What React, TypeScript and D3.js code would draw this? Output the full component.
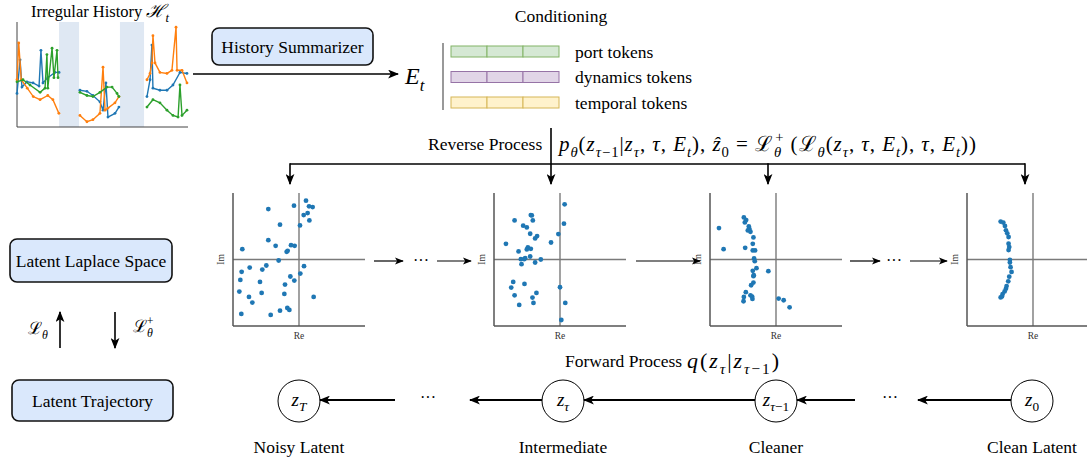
import React from "react";
import * as d3 from "d3";

// history plot: time 0-100, value 0-100, three observed windows per series
const historyBlue = [
  [[0, 32], [1.8, 64], [2.9, 38], [5.8, 43], [9.4, 42], [12.9, 39], [14, 73], [15.2, 42], [18, 47], [22.2, 52], [24.6, 52]],
  [[36.8, 35], [40.9, 34], [44.4, 30], [48.5, 24], [50.3, 16], [52, 42], [53.2, 9.5], [57.3, 13], [59.6, 19]],
  [[76, 29], [77.8, 45], [78.9, 78], [79.5, 37], [83.6, 35], [87.7, 35], [91.2, 40], [95.3, 52], [99.4, 51]],
];
const historyOrange = [
  [[0, 45], [1, 80], [2.5, 45], [6, 37], [9.5, 29], [13.5, 26], [18, 30], [21, 26], [24.5, 13]],
  [[36.8, 11], [40.9, 5], [44.4, 7], [48.5, 13], [50.3, 57], [51.5, 16], [53.2, 18], [57.3, 23], [59.6, 29]],
  [[76, 45], [77.8, 51], [78.9, 61], [79.5, 87], [80.7, 61], [83.6, 52], [87.7, 51], [90.6, 54], [93, 95], [93.6, 54], [96.5, 54], [99.4, 42]],
];
const historyGreen = [
  [[0, 43], [3.5, 45], [7.6, 40], [13.5, 33], [16.4, 37], [17.5, 69], [18, 37], [20.5, 75], [21.6, 47], [23.4, 73], [24, 47]],
  [[36.8, 33], [40.9, 30], [44.4, 29], [48.5, 33], [52.6, 38], [55.6, 38], [58.5, 32], [59.6, 29]],
  [[76, 19], [79.5, 26], [83.6, 23], [87.7, 16], [91.2, 11], [94.2, 9.5], [95.3, 40], [96.5, 11], [99.4, 16]],
];
const historyGaps = [[24.6, 36.3], [60.2, 74.3]];
const seriesColors = ["#1f77b4", "#ff7f0e", "#2ca02c"];

// poles on the complex plane (Re, Im in -1..1), one list per diffusion step
const polesNoisy = [
  [0.106, 0.884], [-0.076, 0.809], [0.152, 0.799], [0.207, 0.789], [-0.465, 0.759], [0.131, 0.698], [0.071, 0.668],
  [0.157, 0.588], [-0.288, 0.523], [0.015, 0.513], [-0.465, 0.291], [-0.354, 0.206], [-0.121, 0.216], [-0.066, 0.206],
  [-0.859, 0.156], [-0.172, 0.131], [-0.187, 0.116], [-0.308, -0.015], [0.076, -0.101], [-0.747, -0.121], [-0.495, -0.09],
  [-0.556, -0.151], [-0.869, -0.186], [0.02, -0.211], [-0.131, -0.256], [-0.071, -0.317], [-0.889, -0.307], [-0.591, -0.337],
  [-0.212, -0.377], [-0.904, -0.482], [-0.566, -0.503], [-0.222, -0.518], [-0.758, -0.563], [0.222, -0.563], [-0.707, -0.648],
  [-0.177, -0.729], [-0.146, -0.759], [-0.288, -0.769], [-0.874, -0.819], [-0.429, -0.834],
];
const polesMid = [
  [0.07, 0.829], [-0.442, 0.668], [-0.427, 0.663], [-0.688, 0.588], [-0.412, 0.588], [0.06, 0.538], [-0.558, 0.508],
  [-0.503, 0.482], [-0.452, 0.387], [-0.025, 0.382], [-0.347, 0.352], [-0.377, 0.317], [-0.136, 0.256], [-0.819, 0.236],
  [-0.487, 0.181], [-0.442, 0.161], [-0.503, 0.151], [-0.628, 0.121], [-0.452, 0.045], [-0.528, 0.02], [-0.593, 0.005],
  [-0.543, 0.005], [-0.291, 0], [-0.377, -0.045], [-0.583, -0.07], [-0.709, -0.337], [-0.538, -0.367], [-0.739, -0.422],
  [0, -0.417], [-0.357, -0.503], [-0.688, -0.538], [-0.417, -0.573], [0.08, -0.653], [-0.402, -0.653], [-0.618, -0.683],
  [0.02, -0.91],
];
const polesCleaner = [
  [-0.487, 0.633], [-0.452, 0.593], [-0.472, 0.558], [-0.412, 0.497], [-0.864, 0.472], [-0.402, 0.457], [-0.427, 0.437],
  [-0.387, 0.417], [-0.342, 0.332], [-0.352, 0.236], [-0.794, 0.156], [-0.467, 0.176], [-0.352, 0.136], [-0.317, 0.136],
  [-0.332, 0.015], [-0.322, -0.025], [-0.296, -0.131], [-0.352, -0.171], [-0.116, -0.176], [-0.337, -0.236], [-0.342, -0.251],
  [-0.342, -0.347], [-0.377, -0.387], [-0.457, -0.492], [-0.387, -0.538], [-0.362, -0.558], [-0.487, -0.563], [-0.357, -0.593],
  [-0.492, -0.628], [0.04, -0.588], [0.116, -0.613], [0.206, -0.719],
];
const polesClean = [
  [-0.49, 0.571], [-0.45, 0.556], [-0.425, 0.505], [-0.41, 0.439], [-0.39, 0.394], [-0.37, 0.338], [-0.37, 0.237],
  [-0.36, 0.187], [-0.37, 0.141], [-0.35, -0.005], [-0.35, -0.045], [-0.34, -0.116], [-0.325, -0.187], [-0.36, -0.258],
  [-0.375, -0.328], [-0.4, -0.399], [-0.41, -0.439], [-0.43, -0.48], [-0.46, -0.52], [-0.49, -0.571], [-0.47, -0.556],
];

const tokenLabels = ["port tokens", "dynamics tokens", "temporal tokens"];
const tokenFill = ["#d5e8d4", "#e1d5e7", "#fff2cc"];
const tokenStroke = ["#82b366", "#9673a6", "#d6b656"];
const tokenCells = [0, 1, 2];

const nodeNames = ["Noisy Latent", "Intermediate", "Cleaner", "Clean Latent"];

const FONT = "'Liberation Serif', 'DejaVu Serif', serif";

type Part = { t: string; s?: "sub" | "sup"; i?: boolean; dx?: number };

function mathSpans(parts: Part[], fs: number) {
  let cur = 0;
  return parts.map((p, k) => {
    const target = p.s === "sub" ? fs * 0.28 : p.s === "sup" ? -fs * 0.42 : 0;
    const dy = target - cur;
    cur = target;
    return (
      <tspan key={k} dy={dy} dx={p.dx} fontSize={p.s ? fs * 0.7 : fs} fontStyle={p.i ? "italic" : "normal"}>
        {p.t}
      </tspan>
    );
  });
}

const reverseFormula: Part[] = [
  { t: "p", i: true }, { t: "θ", s: "sub", i: true }, { t: "(" }, { t: "z", i: true }, { t: "τ", s: "sub", i: true },
  { t: "−1", s: "sub" }, { t: "|" }, { t: "z", i: true }, { t: "τ", s: "sub", i: true }, { t: ", " }, { t: "τ", i: true },
  { t: ", " }, { t: "E", i: true }, { t: "t", s: "sub", i: true }, { t: "), " }, { t: "ẑ", i: true }, { t: "0", s: "sub" },
  { t: " = " }, { t: "ℒ" }, { t: "θ", s: "sub", i: true }, { t: "+", s: "sup", dx: -7 }, { t: " (" }, { t: "ℒ" },
  { t: "θ", s: "sub", i: true }, { t: "(" }, { t: "z", i: true }, { t: "τ", s: "sub", i: true }, { t: ", " },
  { t: "τ", i: true }, { t: ", " }, { t: "E", i: true }, { t: "t", s: "sub", i: true }, { t: "), " }, { t: "τ", i: true },
  { t: ", " }, { t: "E", i: true }, { t: "t", s: "sub", i: true }, { t: "))" },
];
const forwardFormula: Part[] = [
  { t: "q", i: true }, { t: "(" }, { t: "z", i: true }, { t: "τ", s: "sub", i: true }, { t: "|" }, { t: "z", i: true },
  { t: "τ", s: "sub", i: true }, { t: "−1", s: "sub" }, { t: ")" },
];
const nodeSymbols: Part[][] = [
  [{ t: "z", i: true }, { t: "T", s: "sub", i: true }],
  [{ t: "z", i: true }, { t: "τ", s: "sub", i: true }],
  [{ t: "z", i: true }, { t: "τ", s: "sub", i: true }, { t: "−1", s: "sub" }],
  [{ t: "z", i: true }, { t: "0", s: "sub" }],
];

function Panel({ left, pts }: { left: number; pts: number[][] }) {
  const x = d3.scaleLinear().domain([-1, 1]).range([left, left + 132]);
  const y = d3.scaleLinear().domain([-1, 1]).range([326, 193]);
  return (
    <g>
      <line x1={x(0)} y1={y(1)} x2={x(0)} y2={y(-1)} stroke="#7a7a7a" strokeWidth={1.4} />
      <line x1={x(-1)} y1={y(0)} x2={x(1)} y2={y(0)} stroke="#7a7a7a" strokeWidth={1.4} />
      <line x1={x(-1)} y1={y(1)} x2={x(-1)} y2={y(-1)} stroke="#555" strokeWidth={1.5} />
      <line x1={x(-1)} y1={y(-1)} x2={x(1)} y2={y(-1)} stroke="#555" strokeWidth={1.5} />
      {pts.map((d, i) => (
        <circle key={i} cx={x(d[0])} cy={y(d[1])} r={2.4} fill="#1f77b4" />
      ))}
      <text x={x(0)} y={339} fontSize={9.5} textAnchor="middle" fill="#333">Re</text>
      <text transform={`translate(${left - 9},${y(0)}) rotate(-90)`} fontSize={9.5} textAnchor="middle" fill="#333">Im</text>
    </g>
  );
}

function Box({ x, y, w, h, label }: { x: number; y: number; w: number; h: number; label: string }) {
  return (
    <g>
      <rect x={x} y={y} width={w} height={h} rx={7} fill="#dae8fc" stroke="#111" strokeWidth={1.6} />
      <text x={x + w / 2} y={y + h / 2 + 6} textAnchor="middle" fontSize={17.5}>{label}</text>
    </g>
  );
}

export default function App() {
  const xH = d3.scaleLinear().domain([0, 100]).range([17, 188]);
  const yH = d3.scaleLinear().domain([0, 100]).range([127, 22]);
  const lineH = d3.line<number[]>().x((d) => xH(d[0])).y((d) => yH(d[1]));
  const allSeries = [historyBlue, historyOrange, historyGreen];

  const panelLefts = [233, 494, 710, 967];
  const panelPoles = [polesNoisy, polesMid, polesCleaner, polesClean];
  const nodeX = [299, 563, 776, 1032];
  const nodeY = 401;
  const nodeR = 21;

  return (
    <svg width={1087} height={463} style={{ position: "absolute", left: 0, top: 0, background: "#fff" }} fontFamily={FONT}>
      <defs>
        <marker id="ah" viewBox="0 0 10 8" refX={9} refY={4} markerWidth={11} markerHeight={9} markerUnits="userSpaceOnUse" orient="auto">
          <path d="M0,0 L10,4 L0,8 L2.5,4 Z" fill="#000" />
        </marker>
        <marker id="ahs" viewBox="0 0 10 8" refX={9} refY={4} markerWidth={9} markerHeight={7.5} markerUnits="userSpaceOnUse" orient="auto">
          <path d="M0,0 L10,4 L0,8 L2.5,4 Z" fill="#000" />
        </marker>
      </defs>

      {/* irregular history */}
      <text x={31} y={17} fontSize={16.5} style={{ whiteSpace: "pre" }}>
        <tspan>Irregular History </tspan>
        {mathSpans([{ t: "ℋ", i: true }, { t: "t", s: "sub", i: true }], 18)}
      </text>
      {historyGaps.map((g, i) => (
        <rect key={i} x={xH(g[0])} y={yH(100)} width={xH(g[1]) - xH(g[0])} height={yH(0) - yH(100)} fill="#dfe8f3" />
      ))}
      <line x1={xH(0)} y1={yH(100)} x2={xH(0)} y2={yH(0)} stroke="#444" strokeWidth={1} />
      <line x1={xH(0)} y1={yH(0)} x2={xH(100)} y2={yH(0)} stroke="#444" strokeWidth={1} />
      {allSeries.map((segs, si) =>
        segs.map((seg, k) => (
          <g key={`${si}-${k}`}>
            <path d={lineH(seg) || ""} fill="none" stroke={seriesColors[si]} strokeWidth={1.4} />
            {seg.map((d, j) => (
              <circle key={j} cx={xH(d[0])} cy={yH(d[1])} r={1.4} fill={seriesColors[si]} />
            ))}
          </g>
        ))
      )}

      {/* summarizer */}
      <line x1={193} y1={74} x2={398} y2={74} stroke="#000" strokeWidth={1.6} markerEnd="url(#ah)" />
      <Box x={212} y={28} w={161} h={37} label="History Summarizer" />
      <text x={405} y={84} style={{ whiteSpace: "pre" }}>
        {mathSpans([{ t: "E", i: true }, { t: "t", s: "sub", i: true }], 24)}
      </text>

      {/* conditioning tokens */}
      <text x={561} y={22} fontSize={17.5} textAnchor="middle">Conditioning</text>
      <line x1={443} y1={43} x2={443} y2={110} stroke="#999" strokeWidth={2} />
      {tokenLabels.map((lab, r) => {
        const ty = 46 + r * 25.5;
        return (
          <g key={lab}>
            {tokenCells.map((c) => (
              <rect key={c} x={451 + c * 36} y={ty} width={36} height={11} fill={tokenFill[r]} stroke={tokenStroke[r]} strokeWidth={1} />
            ))}
            <text x={575} y={ty + 11.5} fontSize={17.5}>{lab}</text>
          </g>
        );
      })}

      {/* reverse process */}
      <text x={428} y={150} fontSize={17.5}>Reverse Process</text>
      <text x={559} y={151} textLength={417} lengthAdjust="spacing" style={{ whiteSpace: "pre" }}>
        {mathSpans(reverseFormula, 21)}
      </text>
      <line x1={290} y1={164} x2={1025} y2={164} stroke="#000" strokeWidth={1.6} />
      <line x1={551} y1={128} x2={551} y2={184} stroke="#000" strokeWidth={1.6} markerEnd="url(#ah)" />
      {[290, 768, 1025].map((ax) => (
        <line key={ax} x1={ax} y1={163.2} x2={ax} y2={184} stroke="#000" strokeWidth={1.6} markerEnd="url(#ah)" />
      ))}

      {/* poles panels */}
      {panelLefts.map((l, i) => (
        <Panel key={i} left={l} pts={panelPoles[i]} />
      ))}
      <line x1={374} y1={261} x2={403} y2={261} stroke="#000" strokeWidth={1.2} markerEnd="url(#ahs)" />
      <text x={421} y={266} fontSize={16} textAnchor="middle">···</text>
      <line x1={437} y1={261} x2={471} y2={261} stroke="#000" strokeWidth={1.2} markerEnd="url(#ahs)" />
      <line x1={636} y1={261} x2={700} y2={261} stroke="#000" strokeWidth={1.2} markerEnd="url(#ahs)" />
      <line x1={850} y1={261} x2={880} y2={261} stroke="#000" strokeWidth={1.2} markerEnd="url(#ahs)" />
      <text x={894} y={266} fontSize={16} textAnchor="middle">···</text>
      <line x1={910} y1={261} x2={947} y2={261} stroke="#000" strokeWidth={1.2} markerEnd="url(#ahs)" />

      {/* left column */}
      <Box x={10} y={239} w={162} h={43} label="Latent Laplace Space" />
      <Box x={12} y={380} w={161} h={41} label="Latent Trajectory" />
      <line x1={60} y1={348} x2={60} y2={312} stroke="#000" strokeWidth={1.6} markerEnd="url(#ah)" />
      <line x1={115} y1={312} x2={115} y2={348} stroke="#000" strokeWidth={1.6} markerEnd="url(#ah)" />
      <text x={28} y={334} style={{ whiteSpace: "pre" }}>
        {mathSpans([{ t: "ℒ" }, { t: "θ", s: "sub", i: true }], 17)}
      </text>
      <text x={133} y={332} style={{ whiteSpace: "pre" }}>
        {mathSpans([{ t: "ℒ" }, { t: "θ", s: "sub", i: true }, { t: "+", s: "sup", dx: -6 }], 17)}
      </text>

      {/* forward process */}
      <text x={565} y={367} fontSize={17.5}>Forward Process</text>
      <text x={687} y={368} textLength={92} lengthAdjust="spacing" style={{ whiteSpace: "pre" }}>
        {mathSpans(forwardFormula, 22)}
      </text>
      {nodeX.map((cx, i) => (
        <g key={i}>
          <circle cx={cx} cy={nodeY} r={nodeR} fill="#fff" stroke="#000" strokeWidth={1} />
          <text x={cx} y={nodeY + 5} textAnchor="middle" style={{ whiteSpace: "pre" }}>
            {mathSpans(nodeSymbols[i], 19)}
          </text>
          <text x={cx} y={453} textAnchor="middle" fontSize={17.5}>{nodeNames[i]}</text>
        </g>
      ))}
      <line x1={nodeX[3] - nodeR} y1={400} x2={918} y2={400} stroke="#000" strokeWidth={2} markerEnd="url(#ah)" />
      <text x={890} y={403} fontSize={16} textAnchor="middle">···</text>
      <line x1={855} y1={400} x2={nodeX[2] + nodeR} y2={400} stroke="#000" strokeWidth={2} markerEnd="url(#ah)" />
      <line x1={nodeX[2] - nodeR} y1={400} x2={nodeX[1] + nodeR} y2={400} stroke="#000" strokeWidth={2} markerEnd="url(#ah)" />
      <line x1={nodeX[1] - nodeR} y1={400} x2={470} y2={400} stroke="#000" strokeWidth={2} markerEnd="url(#ah)" />
      <text x={428} y={403} fontSize={16} textAnchor="middle">···</text>
      <line x1={395} y1={400} x2={nodeX[0] + nodeR} y2={400} stroke="#000" strokeWidth={2} markerEnd="url(#ah)" />
    </svg>
  );
}
